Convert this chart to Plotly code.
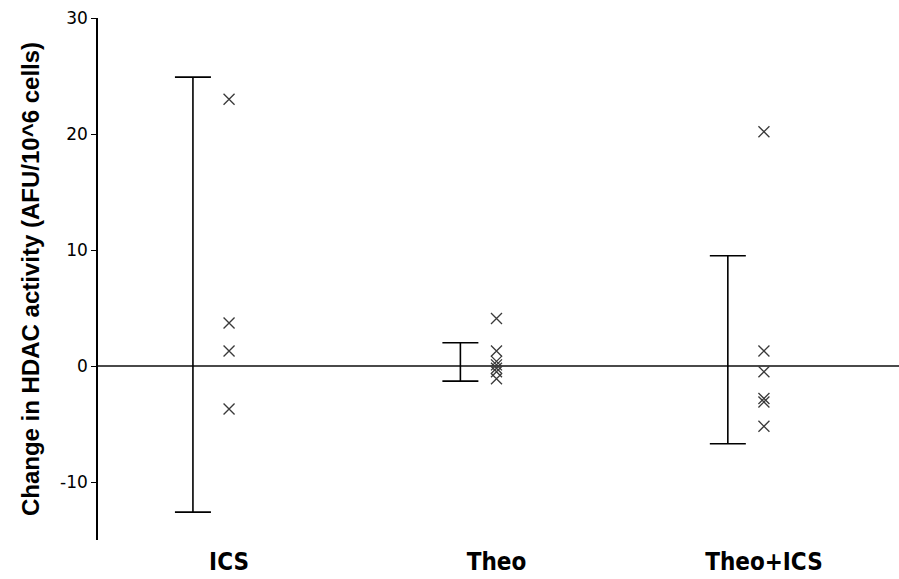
import plotly.graph_objects as go

# Groups and per-subject change in HDAC activity
groups = ["ICS", "Theo", "Theo+ICS"]
ics_vals = [23.0, 3.7, 1.3, -3.7]
theo_vals = [4.1, 1.3, 0.4, 0.1, -0.2, -0.5, -1.1]
theo_ics_vals = [20.2, 1.3, -0.5, -2.8, -3.1, -5.2]

# 95% confidence interval limits for each group
ci_low = [-12.6, -1.3, -6.7]
ci_high = [24.9, 2.0, 9.5]

y_ticks = [-10, 0, 10, 20, 30]
y_tick_text = ["-10", "0", "10", "20", "30"]

fig = go.Figure()

# Confidence interval bars, drawn slightly left of each group's points
bar_offset = -0.135
mids = [(lo + hi) / 2 for lo, hi in zip(ci_low, ci_high)]
halves = [(hi - lo) / 2 for lo, hi in zip(ci_low, ci_high)]
fig.add_trace(go.Scatter(
    x=[i + bar_offset for i in range(len(groups))],
    y=mids,
    mode="markers",
    marker=dict(size=1, color="rgba(0,0,0,0)"),
    error_y=dict(type="data", array=halves, symmetric=True,
                 color="black", thickness=1.6, width=18),
    showlegend=False, hoverinfo="skip",
))

# Individual subject values
for i, vals in enumerate([ics_vals, theo_vals, theo_ics_vals]):
    fig.add_trace(go.Scatter(
        x=[i] * len(vals),
        y=vals,
        mode="markers",
        marker=dict(symbol="x-thin-open", size=11, color="#3a3a3a",
                    line=dict(color="#3a3a3a", width=1.3)),
        showlegend=False,
    ))

fig.update_layout(
    width=899, height=579,
    margin=dict(l=98, r=0, t=18, b=39),
    plot_bgcolor="white", paper_bgcolor="white",
    xaxis=dict(
        range=[-0.49, 2.505],
        tickvals=list(range(len(groups))),
        ticktext=["<b>%s</b>" % g for g in groups],
        showgrid=False, showline=False, zeroline=False, ticks="",
        ticklabelstandoff=5,
        tickfont=dict(family="DejaVu Sans Condensed", size=24, color="black"),
    ),
    yaxis=dict(
        range=[-15, 30],
        tickvals=y_ticks,
        ticktext=y_tick_text,
        showgrid=False,
        showline=True, linecolor="black", linewidth=1.6,
        ticks="outside", ticklen=5, tickcolor="black", tickwidth=1.2,
        zeroline=True, zerolinecolor="#4a4a4a", zerolinewidth=1.6,
        tickfont=dict(family="DejaVu Sans", size=17, color="black"),
        title=dict(text="<b>Change in HDAC activity (AFU/10^6 cells)</b>",
                   font=dict(family="Liberation Sans", size=24, color="black"),
                   standoff=14),
    ),
)

fig.write_html("out.html")
